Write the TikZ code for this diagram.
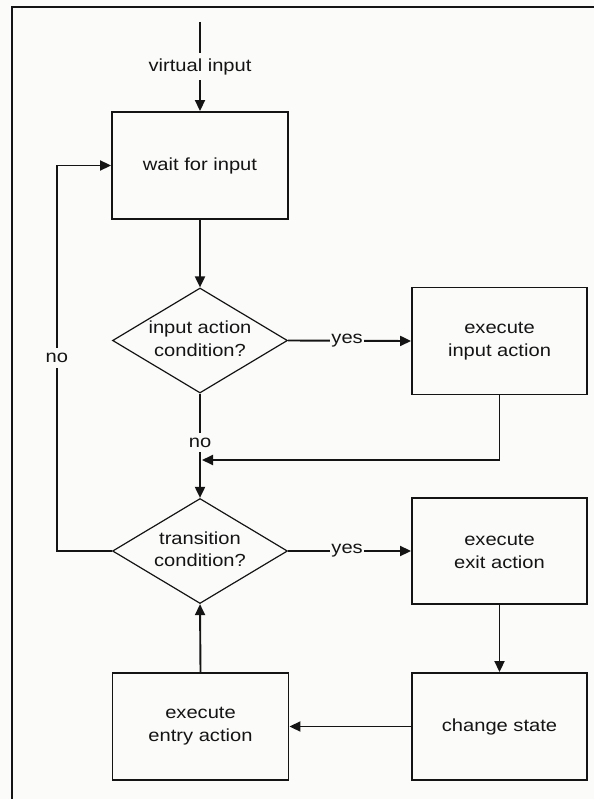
\documentclass[tikz,border=0pt]{standalone}
\usepackage{fontspec}
\setmainfont{Liberation Sans}[FakeStretch=1.15]
\usetikzlibrary{arrows.meta,shapes.geometric}

\definecolor{paper}{RGB}{251,252,250}
\definecolor{ink}{RGB}{20,20,20}

\begin{document}
\begin{tikzpicture}[x=1pt,y=-1pt,
  every node/.style={font=\fontsize{17.5}{23}\selectfont, text=ink},
  stepbox/.style={draw=ink, line width=1.9pt, rectangle, inner sep=0pt,
    minimum width=176pt, minimum height=107pt, align=center, fill=paper},
  decision/.style={draw=ink, line width=1.2pt, diamond, inner sep=0pt,
    minimum width=175pt, minimum height=105pt, fill=paper},
  conn/.style={draw=ink, line width=1.9pt, -{Triangle[length=11pt,width=10pt]}},
  lbl/.style={fill=paper, inner xsep=1pt, inner ysep=5pt},
]
  % page and frame
  \useasboundingbox (0,0) rectangle (594,799);
  \fill[paper] (0,0) rectangle (594,799);
  \draw[ink, line width=2pt] (12,799) -- (12,7) -- (594,7);

  % process steps
  \node[stepbox] (wait)   at (200,165.5) {wait for input};
  \node[stepbox, minimum width=175pt] (inact)  at (499.5,341) {execute\\input action};
  \node[stepbox, minimum width=175pt, minimum height=106pt] (exitact) at (499.5,551) {execute\\exit action};
  \node[stepbox, minimum width=175pt] (change) at (499.5,726.5) {change state};
  \node[stepbox] (entry)  at (200.5,726.5) {execute\\entry action};

  % decisions
  \node[decision, label={center:{\begin{tabular}{@{}c@{}}input action\\[-0.5pt]condition?\end{tabular}}}] (cond1) at (200,340.5) {};
  \node[decision, label={center:{\begin{tabular}{@{}c@{}}transition\\[-0.5pt]condition?\end{tabular}}}] (cond2) at (200,551) {};

  % free ends
  \coordinate (in) at (200,22);
  \coordinate (join) at (202,460);

  % connectors
  \draw[conn] (in) -- node[lbl] {virtual input} (wait.north);
  \draw[conn] (wait.south) -- (cond1.north);
  \draw[conn] (cond1.east) -- node[lbl, pos=0.48] {yes} (inact.west);
  \draw[conn] (cond1.south) -- node[lbl, pos=0.47] {no} (cond2.north);
  \draw[conn] (inact.south) |- (join);
  \draw[conn] (cond2.east) -- node[lbl, pos=0.48] {yes} (exitact.west);
  \draw[conn] (exitact.south) -- (change.north);
  \draw[conn] (change.west) -- (entry.east);
  \draw[conn] (entry.north) -- (cond2.south);
  \draw[conn] (cond2.west) -- ++(-55,0) |- node[lbl, pos=0.25] {no} (wait.west);
\end{tikzpicture}
\end{document}
